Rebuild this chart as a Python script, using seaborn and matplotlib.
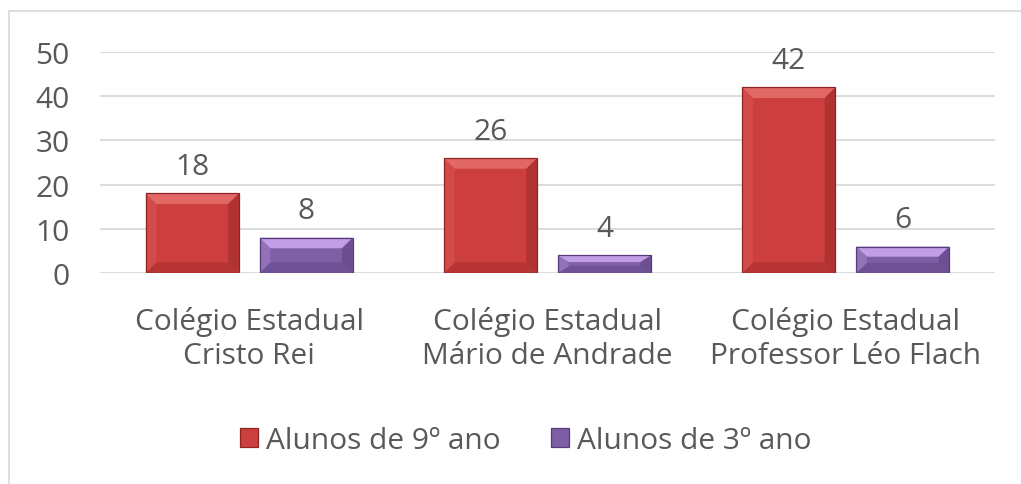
import pandas as pd
import matplotlib.pyplot as plt
import seaborn as sns
from matplotlib.patches import Polygon, Rectangle

# Dados do gráfico
escolas = ["Colégio Estadual\nCristo Rei",
           "Colégio Estadual\nMário de Andrade",
           "Colégio Estadual\nProfessor Léo Flach"]
series = ["Alunos de 9º ano", "Alunos de 3º ano"]
alunos_9 = [18, 26, 42]
alunos_3 = [8, 4, 6]
yticks = [0, 10, 20, 30, 40, 50]

cores = {"Alunos de 9º ano": "#CC3F3E", "Alunos de 3º ano": "#7E5FA6"}
claras = {"Alunos de 9º ano": "#E26866", "Alunos de 3º ano": "#C19EE6"}
escuras = {"Alunos de 9º ano": "#8E2423", "Alunos de 3º ano": "#553C78"}

df = pd.DataFrame({
    "escola": escolas * 2,
    "serie": [series[0]] * 3 + [series[1]] * 3,
    "alunos": alunos_9 + alunos_3,
})

sns.set_style("white")
plt.rcParams["font.family"] = ["Open Sans", "DejaVu Sans"]
cinza = "#595959"
fs = 21.5

fig = plt.figure(figsize=(10.21, 4.85), dpi=100)
ax = fig.add_axes([0.098, 0.435, 0.8765, 0.4557])

sns.barplot(data=df, x="escola", y="alunos", hue="serie", order=escolas,
            hue_order=series, palette=cores, width=0.764, gap=0.183,
            ax=ax, legend=False, saturation=1, edgecolor="none")

# Efeito de bisel nas barras
for barra, serie in zip(ax.patches, [series[0]] * 3 + [series[1]] * 3):
    x0, w, h = barra.get_x(), barra.get_width(), barra.get_height()
    bx = 0.036
    by = min(2.4, h / 2.6)
    ax.add_patch(Polygon([(x0, h), (x0 + w, h), (x0 + w - bx, h - by), (x0 + bx, h - by)],
                         closed=True, color=claras[serie], lw=0, zorder=3))
    ax.add_patch(Polygon([(x0, 0), (x0 + w, 0), (x0 + w - bx, by), (x0 + bx, by)],
                         closed=True, color=escuras[serie], lw=0, zorder=3, alpha=0.35))
    ax.add_patch(Polygon([(x0 + w, 0), (x0 + w, h), (x0 + w - bx, h - by), (x0 + w - bx, by)],
                         closed=True, color=escuras[serie], lw=0, zorder=3, alpha=0.45))
    ax.add_patch(Polygon([(x0, 0), (x0, h), (x0 + bx, h - by), (x0 + bx, by)],
                         closed=True, color=claras[serie], lw=0, zorder=3, alpha=0.3))
    ax.add_patch(Rectangle((x0, 0), w, h, fill=False, ec=escuras[serie], lw=0.9, zorder=4))
    ax.annotate(f"{h:.0f}", (x0 + w / 2, h), xytext=(0, 14), textcoords="offset points",
                ha="center", va="baseline", fontsize=fs, color=cinza)

ax.set_ylim(0, 50)
ax.set_xlim(-0.5, 2.5)
ax.set_yticks(yticks)
ax.set_xlabel("")
ax.set_ylabel("")
ax.yaxis.grid(True, color="#D9D9D9", lw=1.3)
ax.set_axisbelow(True)
sns.despine(ax=ax, left=True, bottom=True)
ax.tick_params(axis="y", length=0, pad=22, labelsize=fs, labelcolor=cinza)
ax.tick_params(axis="x", length=0, pad=24, labelsize=fs, labelcolor=cinza)
for t in ax.get_xticklabels():
    t.set_linespacing(1.22)

# Legenda
handles = [Rectangle((0, 0), 1, 1, fc=cores[s], ec=escuras[s], lw=0.9) for s in series]
fig.legend(handles, series, loc="center", bbox_to_anchor=(0.515, 0.09), ncol=2,
           frameon=False, fontsize=fs, labelcolor=cinza, handlelength=0.6,
           handleheight=0.6, handletextpad=0.25, columnspacing=1.7)

# Borda da área do gráfico
fig.patches.append(Rectangle((9 / 1021, -0.2), 1.5, 1.2 - 12 / 485, fill=False,
                             ec="#D9D9D9", lw=1.2, transform=fig.transFigure, figure=fig))

fig.savefig("out.png", dpi=100)
